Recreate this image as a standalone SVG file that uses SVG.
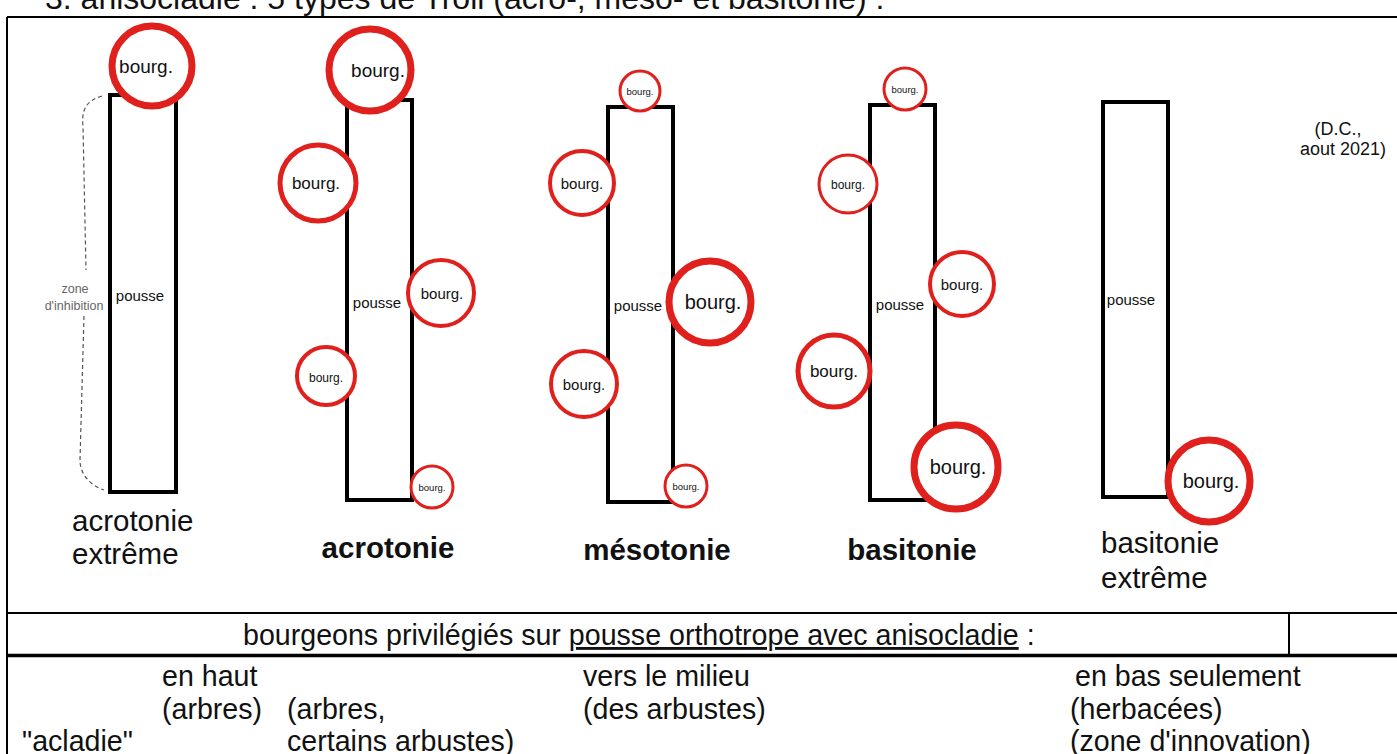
<svg xmlns="http://www.w3.org/2000/svg" width="1397" height="754" viewBox="0 0 1397 754">
<style>
text{font-family:"Liberation Sans",Arial,sans-serif;fill:#111}
.stem{fill:none;stroke:#000;stroke-width:4}
.bud{fill:#fff;stroke:#e0201c}
.lbl{font-size:29.5px}
.b{font-weight:bold}
.tbl{font-size:28.6px}
.mid{text-anchor:middle}
.line{stroke:#000;fill:none}
.pz{font-size:15px}
</style>
<rect width="1397" height="754" fill="#fff"/>
<text x="45" y="9" font-size="32">3. anisocladie : 5 types de Troll (acro-, méso- et basitonie) :</text>
<g id="table">
<path class="line" stroke-width="2" d="M7,17 H1400 M7,17 V754 M7,613 H1400 M1289,613 V655"/>
<path class="line" stroke-width="3.5" d="M7,655.5 H1400"/>
</g>

<g id="connectors">
<path d="M102,96 C88,100 81,108 83,126 L86,270 M84,316 L80,460 C80,476 92,486 104,490" fill="none" stroke="#555" stroke-width="1.2" stroke-dasharray="4 3"/>
</g>

<g id="col1">
<rect class="stem" x="110" y="95" width="66" height="397"/>
<circle class="bud" cx="152" cy="66" r="40" stroke-width="7"/>
<text x="146" y="73" class="mid" font-size="19">bourg.</text>
<text x="140" y="301" class="mid pz">pousse</text>
<text x="75" y="293" class="mid" font-size="12.5" style="fill:#666">zone</text>
<text x="74" y="310" class="mid" font-size="12.5" style="fill:#666">d'inhibition</text>
<text x="72" y="531" class="lbl">acrotonie</text>
<text x="72" y="564" class="lbl">extrême</text>
</g>

<g id="col2">
<rect class="stem" x="347" y="100" width="65" height="400"/>
<circle class="bud" cx="370" cy="70" r="41" stroke-width="7"/>
<text x="378" y="77" class="mid" font-size="19">bourg.</text>
<circle class="bud" cx="318" cy="183" r="38" stroke-width="5"/>
<text x="316" y="189" class="mid" font-size="17">bourg.</text>
<circle class="bud" cx="441" cy="293" r="33" stroke-width="4"/>
<text x="442" y="299" class="mid" font-size="15">bourg.</text>
<circle class="bud" cx="326" cy="376" r="29" stroke-width="4"/>
<text x="326" y="382" class="mid" font-size="12">bourg.</text>
<circle class="bud" cx="432" cy="487" r="21" stroke-width="3"/>
<text x="432" y="491" class="mid" font-size="9.5">bourg.</text>
<text x="377" y="308" class="mid pz">pousse</text>
<text x="388" y="558" class="mid lbl b">acrotonie</text>
</g>

<g id="col3">
<rect class="stem" x="608" y="107" width="65" height="395"/>
<circle class="bud" cx="640" cy="91" r="20" stroke-width="3"/>
<text x="640" y="95" class="mid" font-size="9.5">bourg.</text>
<circle class="bud" cx="582" cy="183" r="32" stroke-width="4"/>
<text x="582" y="189" class="mid" font-size="15">bourg.</text>
<circle class="bud" cx="710" cy="302" r="41" stroke-width="7"/>
<text x="713" y="309" class="mid" font-size="20">bourg.</text>
<circle class="bud" cx="584" cy="384" r="33" stroke-width="4"/>
<text x="584" y="390" class="mid" font-size="15">bourg.</text>
<circle class="bud" cx="686" cy="486" r="21" stroke-width="3"/>
<text x="686" y="490" class="mid" font-size="9.5">bourg.</text>
<text x="638" y="311" class="mid pz">pousse</text>
<text x="657" y="560" class="mid lbl b">mésotonie</text>
</g>

<g id="col4">
<rect class="stem" x="870" y="105" width="65" height="395"/>
<circle class="bud" cx="905" cy="89" r="21" stroke-width="3"/>
<text x="905" y="93" class="mid" font-size="9.5">bourg.</text>
<circle class="bud" cx="848" cy="184" r="29" stroke-width="3"/>
<text x="848" y="189" class="mid" font-size="12">bourg.</text>
<circle class="bud" cx="962" cy="284" r="32" stroke-width="4"/>
<text x="962" y="290" class="mid" font-size="15">bourg.</text>
<circle class="bud" cx="834" cy="371" r="36" stroke-width="5"/>
<text x="834" y="377" class="mid" font-size="17">bourg.</text>
<circle class="bud" cx="956" cy="467" r="42" stroke-width="7"/>
<text x="958" y="474" class="mid" font-size="20">bourg.</text>
<text x="900" y="310" class="mid pz">pousse</text>
<text x="912" y="560" class="mid lbl b">basitonie</text>
</g>

<g id="col5">
<rect class="stem" x="1103" y="102" width="65" height="395"/>
<circle class="bud" cx="1209" cy="481" r="41" stroke-width="7"/>
<text x="1211" y="488" class="mid" font-size="20">bourg.</text>
<text x="1131" y="305" class="mid pz">pousse</text>
<text x="1101" y="553" class="lbl">basitonie</text>
<text x="1101" y="588" class="lbl">extrême</text>
</g>

<g id="credit">
<text x="1338" y="135" class="mid" font-size="18">(D.C.,</text>
<text x="1343" y="155" class="mid" font-size="18">aout 2021)</text>
</g>

<g id="legend">
<text x="243" y="645" class="tbl">bourgeons privilégiés sur <tspan text-decoration="underline">pousse orthotrope avec anisocladie</tspan> :</text>
<text x="162" y="686" class="tbl">en haut</text>
<text x="583" y="686" class="tbl">vers le milieu</text>
<text x="1075" y="686" class="tbl">en bas seulement</text>
<text x="162" y="719" class="tbl">(arbres)</text>
<text x="287" y="719" class="tbl">(arbres,</text>
<text x="583" y="719" class="tbl">(des arbustes)</text>
<text x="1070" y="719" class="tbl">(herbacées)</text>
<text x="22" y="751" class="tbl">"acladie"</text>
<text x="287" y="751" class="tbl">certains arbustes)</text>
<text x="1070" y="751" class="tbl">(zone d'innovation)</text>
</g>
</svg>
